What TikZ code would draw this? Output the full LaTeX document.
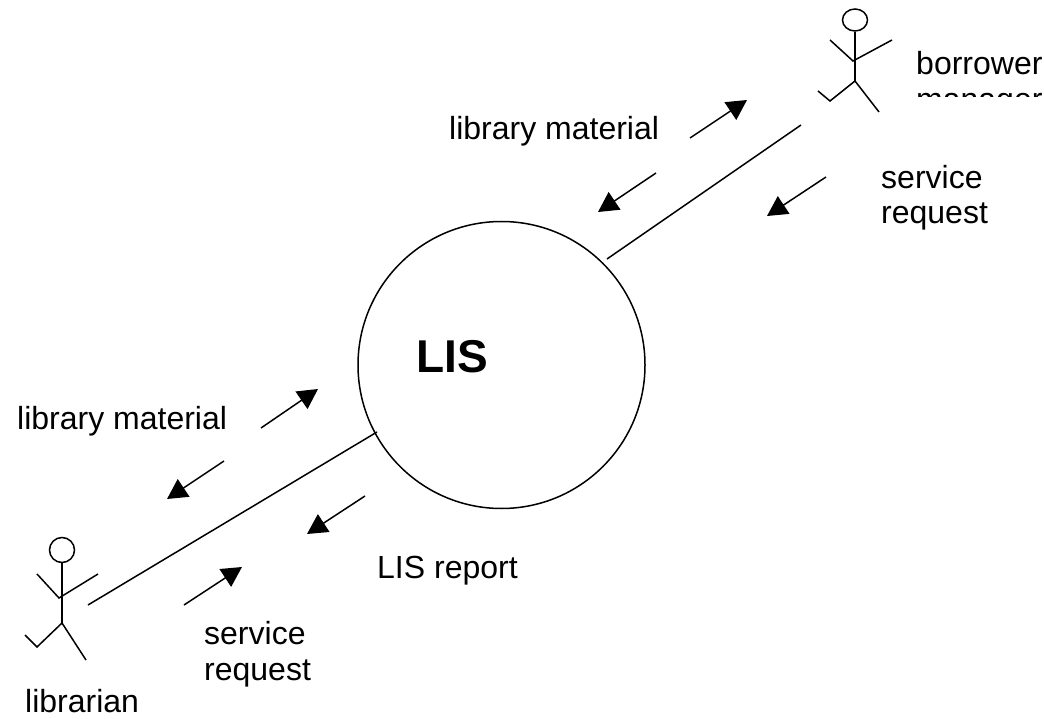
\documentclass[tikz,border=0pt]{standalone}
\usepackage{fontspec}
\setmainfont{Liberation Sans}
\usetikzlibrary{arrows.meta,shapes.geometric}
\tikzset{
 x=1pt,y=-1pt,
 ink/.style={draw=black,line width=1.5pt},
 flow/.style={ink,-{Triangle[length=20pt,width=21pt]}},
 lbl/.style={inner sep=0pt,anchor=base west,font=\fontsize{32}{35.5}\selectfont,align=left},
 lis/.style={inner sep=0pt,anchor=base west,font=\fontsize{46}{50}\selectfont\bfseries},
}
\begin{document}
\begin{tikzpicture}
\useasboundingbox (0,0) rectangle (1044,719);
\fill[white] (0,0) rectangle (1044,719);
% system
\node[ink,circle,minimum size=287pt,inner sep=0pt] (sys) at (501.5,365) {};
\node[lis] (lisT) at (416,372) {LIS};
% borrower actor
\node[ink,ellipse,minimum width=25pt,minimum height=22pt,inner sep=0pt] (bh) at (855,20) {};
\coordinate (bhip) at (855,81);
\coordinate (bsh) at (853,61);
\coordinate (bla) at (830,40);
\coordinate (bra) at (892,40);
\coordinate (bk) at (830,101);
\coordinate (bf) at (818,91);
\coordinate (brf) at (879,112);
\draw[ink] (bh.south) -- (bhip);
\draw[ink] (bla) -- (bsh) -- (bra);
\draw[ink] (bf) -- (bk) -- (bhip) -- (brf);
% librarian actor
\node[ink,circle,minimum size=25pt,inner sep=0pt] (lh) at (62,550) {};
\coordinate (lhip) at (62,623);
\coordinate (lsh) at (59,598);
\coordinate (lla) at (37,574);
\coordinate (lra) at (98,574);
\coordinate (lk) at (37,647);
\coordinate (lf) at (25,635);
\coordinate (lrf) at (86,660);
\draw[ink] (lh.south) -- (lhip);
\draw[ink] (lla) -- (lsh) -- (lra);
\draw[ink] (lf) -- (lk) -- (lhip) -- (lrf);
% links
\coordinate (la) at (88,605);
\coordinate (lb) at (377,432);
\coordinate (ta) at (607,259);
\coordinate (tb) at (801,125);
\draw[ink] (la) -- (lb);
\draw[ink] (ta) -- (tb);
% arrows
\coordinate (a1s) at (690,138); \coordinate (a1e) at (747,100);
\coordinate (a2s) at (656,173); \coordinate (a2e) at (598,212);
\coordinate (a3s) at (826,177); \coordinate (a3e) at (767,216);
\coordinate (a4s) at (261,428); \coordinate (a4e) at (318,389);
\coordinate (a5s) at (224,461); \coordinate (a5e) at (167,499);
\coordinate (a6s) at (365,496); \coordinate (a6e) at (307,534);
\coordinate (a7s) at (184,605); \coordinate (a7e) at (242,567);
\foreach \n in {1,...,7} \draw[flow] (a\n s) -- (a\n e);
% labels
\node[lbl] (t1) at (449,140) {library material};
\node[lbl] (t2) at (881,224) {service\\request};
\node[lbl] (t3) at (17,429) {library material};
\node[lbl] (t4) at (377,578) {LIS report};
\node[lbl] (t5) at (204,680) {service\\request};
\node[lbl] (t6) at (25,712) {librarian};
\node[lbl] (t7) at (916,75) {borrower};
\begin{scope}
\clip (900,80) rectangle (1044,97);
\node[lbl] (t8) at (916,111) {manager};
\end{scope}
\end{tikzpicture}
\end{document}
